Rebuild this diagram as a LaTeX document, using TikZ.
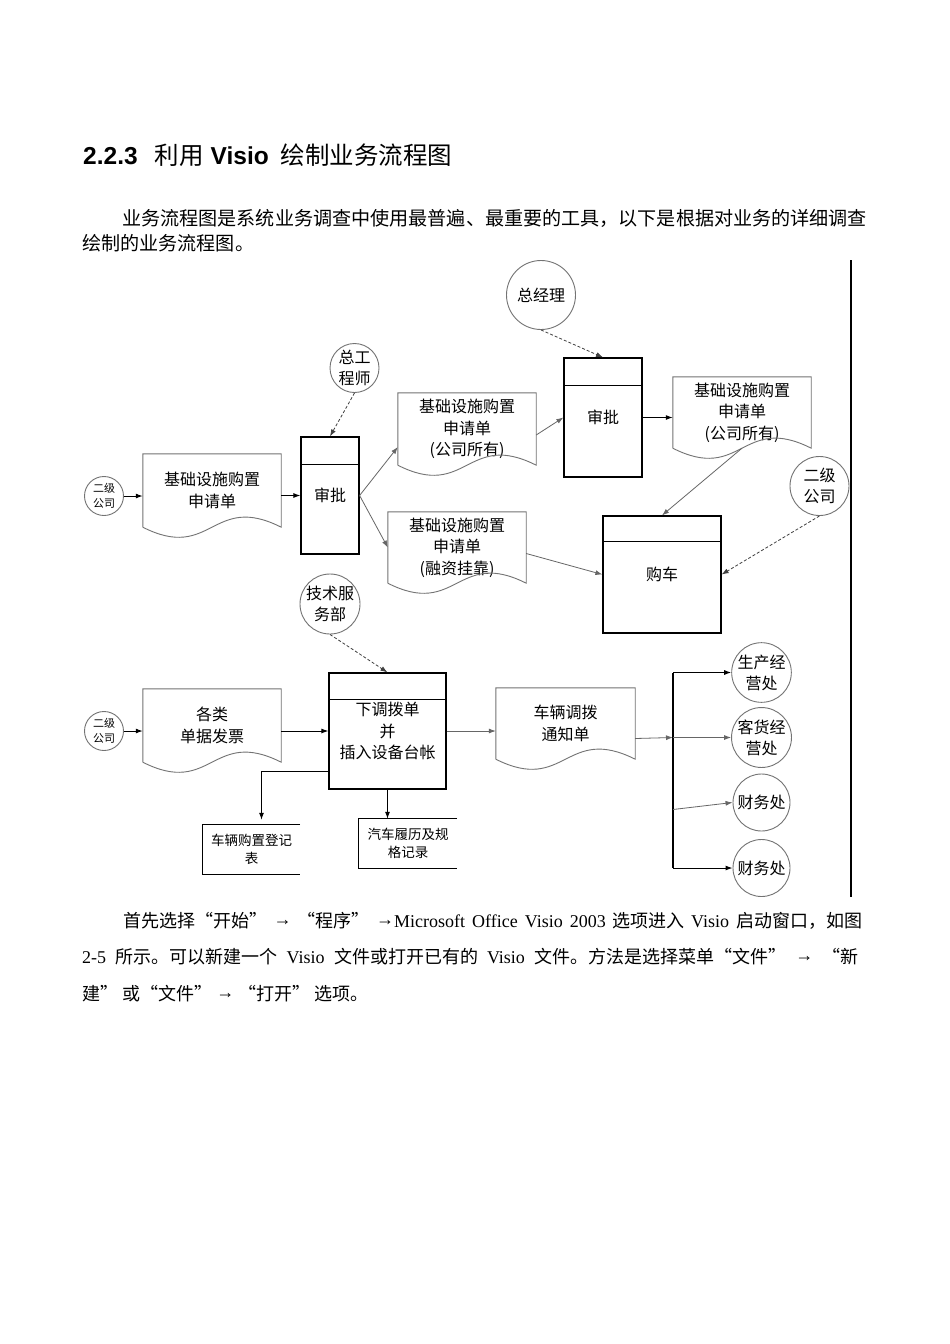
\documentclass[tikz,border=0pt]{standalone}
\usepackage{fontspec}
\setmainfont{Liberation Serif}
\newfontfamily\cjk{Noto Sans CJK SC}
\newfontfamily\headsans{Liberation Sans}
\usetikzlibrary{arrows.meta, calc}
\newcommand{\pxsize}[2]{\fontsize{#1}{#2}\selectfont}
\newcommand{\toarr}{\raisebox{1.5pt}{\rmfamily →}}
\tikzstyle{page_text} = [inner sep=0pt, anchor=base west]
\tikzstyle{doc_node} = [rectangle, inner sep=0pt, align=center, font=\cjk\pxsize{16}{21.5}]
\tikzstyle{doc_line} = [draw=black!55, line width=0.9pt]
\tikzstyle{proc_node} = [rectangle, draw=black, line width=1.2pt, inner sep=0pt, align=center, font=\cjk\pxsize{16}{21.5}]
\tikzstyle{role_node} = [circle, draw=black!55, line width=0.9pt, inner sep=0pt, align=center, font=\cjk\pxsize{16}{21}]
\tikzstyle{small_role} = [role_node, minimum size=39pt, font=\cjk\pxsize{11}{15}]
\tikzstyle{store_node} = [rectangle, inner sep=0pt, align=center, font=\cjk\pxsize{13.5}{17.5}]
\tikzstyle{flow_arrow} = [line width=1pt, -{Latex[length=7pt, width=5pt]}]
\tikzstyle{thin_arrow} = [flow_arrow, draw=black!60, line width=0.8pt]
\tikzstyle{dash_arrow} = [flow_arrow, densely dashed, draw=black!75, line width=0.8pt]

\begin{document}
\begin{tikzpicture}[x=1pt, y=-1pt]
    \fill[white] (0,0) rectangle (950,1344);
    \useasboundingbox (0,0) rectangle (950,1344);

    % heading and text around the chart
    \node (title) [page_text] at (83,164) {\pxsize{24.5}{28}\headsans\bfseries 2.2.3\hspace{17pt}\mdseries\cjk 利用\hspace{7pt}\headsans\bfseries Visio\hspace{12pt}\mdseries\cjk 绘制业务流程图};
    \node (intro1) [page_text] at (122,225) {\cjk\pxsize{19.1}{25}业务流程图是系统业务调查中使用最普遍、最重要的工具，以下是根据对业务的详细调查};
    \node (intro2) [page_text] at (82,250) {\cjk\pxsize{19.1}{25}绘制的业务流程图。};
    \node (after1) [page_text] at (123,927) {\pxsize{18}{22}\makebox[739pt][s]{\cjk 首先选择“开始” \toarr{} “程序” \toarr\rmfamily Microsoft Office Visio 2003 \cjk 选项进入 \rmfamily Visio \cjk 启动窗口，如图}};
    \node (after2) [page_text] at (82,963) {\pxsize{18}{22}\makebox[776pt][s]{\rmfamily 2-5 \cjk 所示。可以新建一个 \rmfamily Visio \cjk 文件或打开已有的 \rmfamily Visio \cjk 文件。方法是选择菜单“文件” \toarr{} “新}};
    \node (after3) [page_text] at (82,1000) {\pxsize{18}{22}\cjk 建” 或“文件” \toarr{} “打开” 选项。};
    \draw[line width=1.3pt] (851,260) -- (851,897);

    % upper flow
    \node (co1) [small_role] at (104,496) {二级\\公司};
    \node (req1) [doc_node, minimum width=138pt, minimum height=73pt] at (212,490.5) {基础设施购置\\申请单};
    \node (chk1) [proc_node, minimum width=58pt, minimum height=117pt] at (330,495.5) {审批};
    \node (eng) [role_node, minimum size=49pt] at (354.5,368) {总工\\程师};
    \node (req2) [doc_node, minimum width=138pt, minimum height=72pt] at (467,429) {基础设施购置\\申请单\\(公司所有)};
    \node (req3) [doc_node, minimum width=138pt, minimum height=71pt] at (457,547.5) {基础设施购置\\申请单\\(融资挂靠)};
    \node (chk2) [proc_node, minimum width=78pt, minimum height=119pt] at (603,417.5) {审批};
    \node (gm) [role_node, minimum size=69pt] at (541,295) {总经理};
    \node (req4) [doc_node, minimum width=138pt, minimum height=71pt] at (742,412.5) {基础设施购置\\申请单\\(公司所有)};
    \node (buy) [proc_node, minimum width=118pt, minimum height=117pt] at (662,574.5) {购车};
    \node (co2) [role_node, minimum size=59pt] at (819.5,486) {二级\\公司};

    % lower flow
    \node (tech) [role_node, minimum size=60pt] at (330,604) {技术服\\务部};
    \node (co3) [small_role] at (104,731) {二级\\公司};
    \node (bill) [doc_node, minimum width=138pt, minimum height=73pt] at (212,725.5) {各类\\单据发票};
    \node (alloc) [proc_node, minimum width=117pt, minimum height=116pt] at (387.5,731) {下调拨单\\并\\插入设备台帐};
    \node (notice) [doc_node, minimum width=139pt, minimum height=71pt] at (565.5,723.5) {车辆调拨\\通知单};
    \node (reg) [store_node, minimum width=97pt, minimum height=49pt] at (251.5,849.5) {车辆购置登记\\表};
    \node (rec) [store_node, minimum width=98pt, minimum height=49pt] at (408,843.5) {汽车履历及规\\格记录};
    \node (dept1) [role_node, minimum size=57pt] at (761.5,672.5) {生产经\\营处};
    \node (dept2) [role_node, minimum size=57pt] at (761.5,737.5) {客货经\\营处};
    \node (dept3) [role_node, minimum size=57pt] at (761.5,802.5) {财务处};
    \node (dept4) [role_node, minimum size=57pt] at (761.5,868) {财务处};
    \coordinate (bus_top) at (673,672.5);
    \coordinate (bus_end) at (673,868);

    % document, process and store outlines
    \foreach \docname in {req1,req2,req3,req4,bill,notice}
        \draw[doc_line] (\docname.south west) -- (\docname.north west) -- (\docname.north east) -- (\docname.south east)
            .. controls ($(\docname.south)+(0,-35)$) and ($(\docname.south)+(0,35)$) .. (\docname.south west);
    \foreach \boxname/\headh in {chk1/28, chk2/28, buy/26, alloc/27}
        \draw[line width=1.2pt] ($(\boxname.north west)+(0,\headh)$) -- ($(\boxname.north east)+(0,\headh)$);
    \foreach \storename in {reg,rec}
        \draw[line width=1.2pt] (\storename.north east) -- (\storename.north west) -- (\storename.south west) -- (\storename.south east);

    % connectors
    \draw[flow_arrow] (co1.east) -- (co1.east -| req1.west);
    \draw[flow_arrow] (chk1.west -| req1.east) -- (chk1.west);
    \draw[thin_arrow] (chk1.east) -- ($(req2.west)+(0,18)$);
    \draw[thin_arrow] (chk1.east) -- (req3.west);
    \draw[dash_arrow] (eng.south) -- (chk1.north);
    \draw[thin_arrow] ($(req2.east)+(0,6)$) -- (chk2.west);
    \draw[dash_arrow] (gm.south) -- (chk2.north);
    \draw[flow_arrow] (chk2.east) -- (chk2.east -| req4.west);
    \draw[thin_arrow] (req4.south) -- (buy.north);
    \draw[dash_arrow] (co2.south) -- (buy.east);
    \draw[thin_arrow] ($(req3.east)+(0,6)$) -- (buy.west);

    \draw[flow_arrow] (co3.east) -- (co3.east -| bill.west);
    \draw[flow_arrow] (alloc.west -| bill.east) -- (alloc.west);
    \draw[dash_arrow] (tech.south) -- (alloc.north);
    \draw[thin_arrow] (alloc.east) -- (alloc.east -| notice.west);
    \draw[thin_arrow] ($(notice.east)+(0,15)$) -- (bus_top |- dept2.west);
    \draw[line width=1.2pt] (bus_top) -- (bus_end);
    \draw[flow_arrow] (bus_top) -- (dept1.west);
    \draw[thin_arrow] (bus_top |- dept2.west) -- (dept2.west);
    \draw[thin_arrow] ($(bus_top |- dept3.west)+(0,7)$) -- (dept3.west);
    \draw[flow_arrow] (bus_end) -- (dept4.west);
    \draw[flow_arrow] ($(alloc.west)+(0,40)$) -| ($(reg.north)+(10,-5)$);
    \draw[flow_arrow] (alloc.south) -- (alloc.south |- rec.north);
\end{tikzpicture}
\end{document}
